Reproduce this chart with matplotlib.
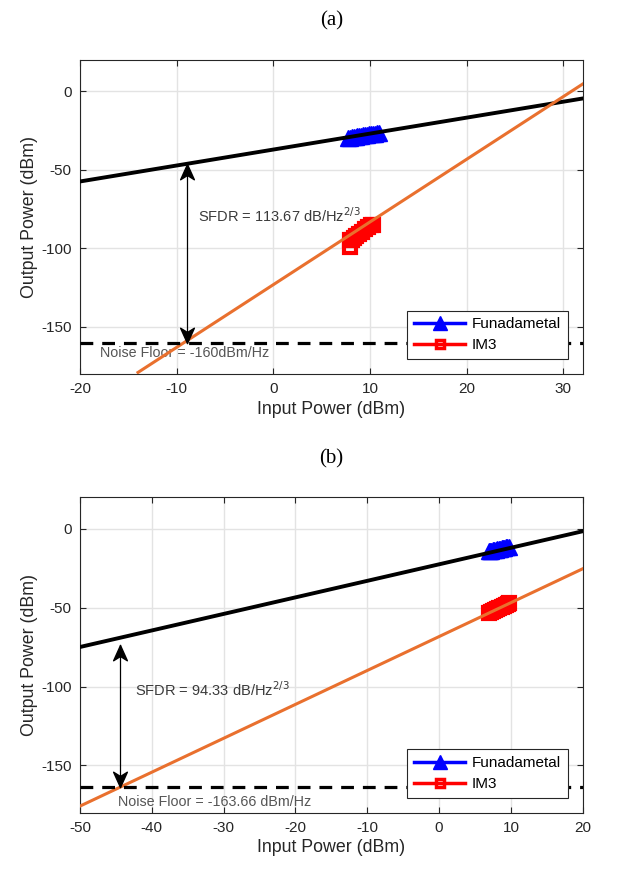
import matplotlib
matplotlib.use('Agg')
import matplotlib.pyplot as plt
from matplotlib.path import Path

plt.rcParams['font.family'] = ['Liberation Sans', 'DejaVu Sans']
plt.rcParams['axes.unicode_minus'] = False

# (a) 拟合直线端点与测量点
a_xlim = [-20, 32]
a_fund_x = [-20, 32]
a_fund_y = [-57.5, -4.7]
a_im3_x = [-14, 32]
a_im3_y = [-179, 4.5]
a_fund_mx = [7.7, 7.9, 8.1, 8.3, 8.5, 8.7, 8.9, 9.1, 9.3, 9.5, 9.7, 9.9, 10.1, 10.3, 10.5, 10.7, 10.9]
a_fund_my = [-29.8, -29.6, -29.4, -29.2, -29.0, -28.8, -28.6, -28.4, -28.2, -28.0,
             -27.8, -27.6, -27.4, -27.2, -27.0, -26.8, -26.6]
a_im3_mx = [7.9, 7.9, 8.1, 8.3, 8.6, 8.9, 9.2, 9.5, 9.8, 10.1, 10.3]
a_im3_my = [-99, -95, -94.5, -93.5, -92.5, -91, -89.5, -88, -86.5, -85.5, -85]
a_noise = -160
a_arrow_x = -8.9
a_arrow_top = -46.5
a_sfdr = 'SFDR = 113.67 dB/Hz$^{2/3}$'
a_noise_txt = 'Noise Floor = -160dBm/Hz'

# (b)
b_xlim = [-50, 20]
b_fund_x = [-50, 20]
b_fund_y = [-74.9, -1.5]
b_im3_x = [-50, 20]
b_im3_y = [-175.8, -25.3]
b_fund_mx = [6.9, 7.1, 7.3, 7.5, 7.7, 7.9, 8.1, 8.3, 8.5, 8.7, 8.9, 9.1, 9.3, 9.5, 9.7]
b_fund_my = [-14.2, -14.0, -13.8, -13.6, -13.4, -13.2, -13.0, -12.8, -12.6, -12.4,
             -12.2, -12.0, -11.8, -11.6, -11.4]
b_im3_mx = [6.9, 7.2, 7.5, 7.8, 8.1, 8.4, 8.7, 9.0, 9.3, 9.6, 9.8]
b_im3_my = [-53.5, -52.8, -52.2, -51.5, -50.9, -50.2, -49.6, -48.9, -48.3, -47.6, -47.2]
b_noise = -163.66
b_arrow_x = -44.4
b_arrow_top = -73.5
b_sfdr = 'SFDR = 94.33 dB/Hz$^{2/3}$'
b_noise_txt = 'Noise Floor = -163.66 dBm/Hz'

orange = '#E9702E'

# 内凹箭头（尖端在原点）
head_up = Path([(0, 0), (-0.45, -1), (0, -0.72), (0.45, -1), (0, 0)],
               [Path.MOVETO, Path.LINETO, Path.LINETO, Path.LINETO, Path.CLOSEPOLY])
head_dn = Path([(0, 0), (-0.45, 1), (0, 0.72), (0.45, 1), (0, 0)],
               [Path.MOVETO, Path.LINETO, Path.LINETO, Path.LINETO, Path.CLOSEPOLY])

fig = plt.figure(figsize=(6.23, 8.71), dpi=100)
ax1 = fig.add_axes([0.1284, 0.5706, 0.8069, 0.3609])
ax2 = fig.add_axes([0.1284, 0.0669, 0.8069, 0.3621])


def draw(ax, title, xlim, fx, fy, ix, iy, fmx, fmy, imx, imy, noise, arx, artop,
         sfdr, sfdr_xy, ntxt, ntxt_xy, xticks):
    ax.plot(fmx, fmy, linestyle='none', marker='^', markersize=11.5, color='blue', zorder=3)
    ax.plot(imx, imy, linestyle='none', marker='s', markersize=8, mfc='none',
            mec='red', mew=3, zorder=3)
    ax.plot(fx, fy, color='black', lw=2.8, zorder=4)
    ax.plot(ix, iy, color=orange, lw=2.2, zorder=4)
    ax.axhline(noise, color='black', lw=2.3, ls=(0, (4, 2.8)), zorder=4)
    # 双向箭头
    ax.plot([arx, arx], [artop, noise], color='black', lw=0.9, zorder=5)
    ax.plot([arx], [artop], marker=head_up, markersize=22, color='black', lw=0, zorder=6)
    ax.plot([arx], [noise], marker=head_dn, markersize=22, color='black', lw=0, zorder=6)
    ax.text(sfdr_xy[0], sfdr_xy[1], sfdr, fontsize=10.5, color='#3a3a3a', va='center')
    ax.text(ntxt_xy[0], ntxt_xy[1], ntxt, fontsize=10.3, color='#555555', va='center')

    # 图例
    h1, = ax.plot([], [], color='blue', lw=2.5, marker='^', markersize=10)
    h2, = ax.plot([], [], color='red', lw=2.5, marker='s', markersize=6, mfc='none', mew=2.5)
    leg = ax.legend([h1, h2], ['Funadametal', 'IM3'], loc='lower right',
                    bbox_to_anchor=(0.970, 0.047), borderaxespad=0, fontsize=11,
                    fancybox=False, framealpha=1, edgecolor='#262626',
                    handlelength=3.4, labelspacing=0.45, borderpad=0.45, handletextpad=0.4)
    leg.get_frame().set_linewidth(0.8)
    leg.set_zorder(10)

    ax.set_xlim(xlim)
    ax.set_ylim(-180, 20)
    ax.set_xticks(xticks)
    ax.set_yticks([-150, -100, -50, 0])
    ax.grid(True, color='#e3e3e3', lw=1)
    ax.set_axisbelow(True)
    ax.tick_params(direction='in', top=True, right=True, length=4, width=0.8,
                   labelsize=11, colors='#262626', pad=6)
    for s in ax.spines.values():
        s.set_color('#262626')
        s.set_linewidth(0.8)
    ax.set_xlabel('Input Power (dBm)', fontsize=12.8, color='#262626', labelpad=3)
    ax.set_ylabel('Output Power (dBm)', fontsize=12.8, color='#262626', labelpad=2)
    ax.set_title(title, fontsize=15, family='Liberation Serif', pad=24.5)


draw(ax1, '(a)', a_xlim, a_fund_x, a_fund_y, a_im3_x, a_im3_y, a_fund_mx, a_fund_my,
     a_im3_mx, a_im3_my, a_noise, a_arrow_x, a_arrow_top, a_sfdr, (-7.8, -79.5),
     a_noise_txt, (-17.9, -166.8), [-20, -10, 0, 10, 20, 30])
draw(ax2, '(b)', b_xlim, b_fund_x, b_fund_y, b_im3_x, b_im3_y, b_fund_mx, b_fund_my,
     b_im3_mx, b_im3_my, b_noise, b_arrow_x, b_arrow_top, b_sfdr, (-42.3, -102),
     b_noise_txt, (-44.7, -173.3), [-50, -40, -30, -20, -10, 0, 10, 20])

fig.savefig('out.png', dpi=100)
